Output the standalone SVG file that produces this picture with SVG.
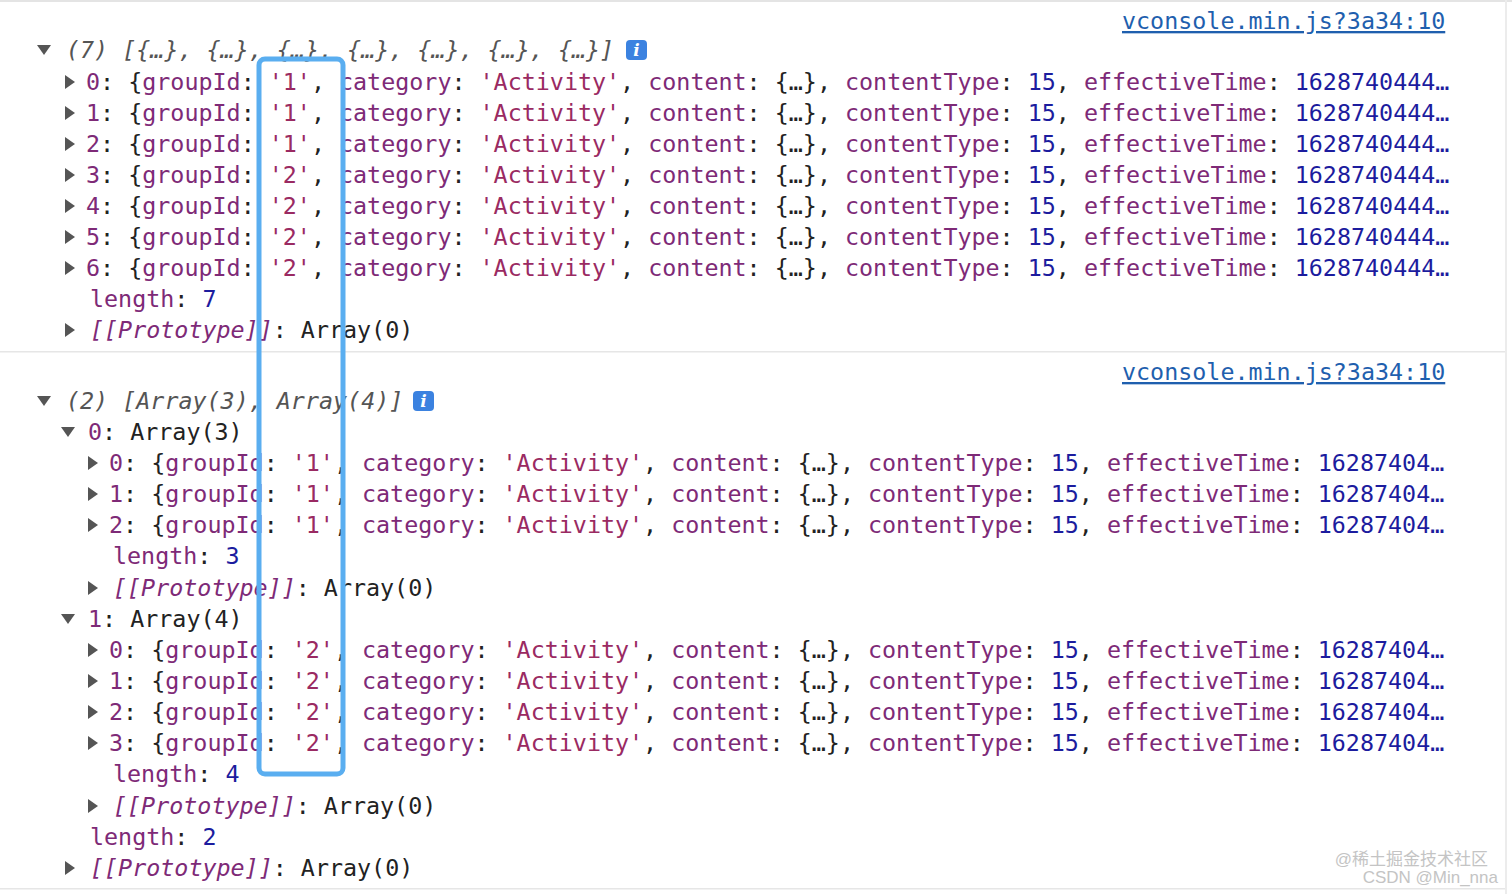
<svg xmlns="http://www.w3.org/2000/svg" width="1512" height="894" viewBox="0 0 1512 894" xml:space="preserve">
<style>
text{font-family:"DejaVu Sans Mono","Liberation Mono",monospace;font-size:23.35px;fill:#222}
.k{fill:#7e2a77}.s{fill:#9a2a62}.n{fill:#1c1c9e}.h{fill:#555;font-style:italic}
.p{fill:#7e2a77;font-style:italic}.l{fill:#1f5fae;text-decoration:underline}
.w{font-family:"Liberation Sans","Noto Sans CJK SC",sans-serif;font-size:17px;fill:#c4c4c4}
</style>
<defs>
<path id="tr" d="M0,-7 L10,0 L0,7Z" fill="#555"/>
<path id="td" d="M-7,-5 L7,-5 L0,5Z" fill="#555"/>
<g id="info"><rect x="0" y="0" width="21" height="20" rx="4" fill="#3b82e0"/><text x="10.5" y="16" text-anchor="middle" style="fill:#fff;font-size:17px;font-weight:bold;font-family:'DejaVu Serif',serif;font-style:italic">i</text></g>
</defs>
<rect width="1512" height="894" fill="#fff"/>
<rect x="0" y="0" width="1512" height="2" fill="#e4e4e4"/>
<rect x="1505" y="0" width="2" height="894" fill="#ececec"/>
<rect x="0" y="351" width="1505" height="1.5" fill="#e6e6e6"/>
<rect x="0" y="888" width="1505" height="1.5" fill="#e6e6e6"/>

<g id="log1">
<text x="1122" y="29" class="l">vconsole.min.js?3a34:10</text>
<use href="#td" x="44" y="50"/>
<text x="66" y="58" class="h">(7) [{…}, {…}, {…}, {…}, {…}, {…}, {…}]</text>
<use href="#info" x="626" y="40"/>
<use href="#tr" x="65" y="82"/><text x="86" y="90"><tspan class="k">0</tspan>: {<tspan class="k">groupId</tspan>: <tspan class="s">'1'</tspan>, <tspan class="k">category</tspan>: <tspan class="s">'Activity'</tspan>, <tspan class="k">content</tspan>: {…}, <tspan class="k">contentType</tspan>: <tspan class="n">15</tspan>, <tspan class="k">effectiveTime</tspan>: <tspan class="n">1628740444…</tspan></text>
<use href="#tr" x="65" y="113"/><text x="86" y="121"><tspan class="k">1</tspan>: {<tspan class="k">groupId</tspan>: <tspan class="s">'1'</tspan>, <tspan class="k">category</tspan>: <tspan class="s">'Activity'</tspan>, <tspan class="k">content</tspan>: {…}, <tspan class="k">contentType</tspan>: <tspan class="n">15</tspan>, <tspan class="k">effectiveTime</tspan>: <tspan class="n">1628740444…</tspan></text>
<use href="#tr" x="65" y="144"/><text x="86" y="152"><tspan class="k">2</tspan>: {<tspan class="k">groupId</tspan>: <tspan class="s">'1'</tspan>, <tspan class="k">category</tspan>: <tspan class="s">'Activity'</tspan>, <tspan class="k">content</tspan>: {…}, <tspan class="k">contentType</tspan>: <tspan class="n">15</tspan>, <tspan class="k">effectiveTime</tspan>: <tspan class="n">1628740444…</tspan></text>
<use href="#tr" x="65" y="175"/><text x="86" y="183"><tspan class="k">3</tspan>: {<tspan class="k">groupId</tspan>: <tspan class="s">'2'</tspan>, <tspan class="k">category</tspan>: <tspan class="s">'Activity'</tspan>, <tspan class="k">content</tspan>: {…}, <tspan class="k">contentType</tspan>: <tspan class="n">15</tspan>, <tspan class="k">effectiveTime</tspan>: <tspan class="n">1628740444…</tspan></text>
<use href="#tr" x="65" y="206"/><text x="86" y="214"><tspan class="k">4</tspan>: {<tspan class="k">groupId</tspan>: <tspan class="s">'2'</tspan>, <tspan class="k">category</tspan>: <tspan class="s">'Activity'</tspan>, <tspan class="k">content</tspan>: {…}, <tspan class="k">contentType</tspan>: <tspan class="n">15</tspan>, <tspan class="k">effectiveTime</tspan>: <tspan class="n">1628740444…</tspan></text>
<use href="#tr" x="65" y="237"/><text x="86" y="245"><tspan class="k">5</tspan>: {<tspan class="k">groupId</tspan>: <tspan class="s">'2'</tspan>, <tspan class="k">category</tspan>: <tspan class="s">'Activity'</tspan>, <tspan class="k">content</tspan>: {…}, <tspan class="k">contentType</tspan>: <tspan class="n">15</tspan>, <tspan class="k">effectiveTime</tspan>: <tspan class="n">1628740444…</tspan></text>
<use href="#tr" x="65" y="268"/><text x="86" y="276"><tspan class="k">6</tspan>: {<tspan class="k">groupId</tspan>: <tspan class="s">'2'</tspan>, <tspan class="k">category</tspan>: <tspan class="s">'Activity'</tspan>, <tspan class="k">content</tspan>: {…}, <tspan class="k">contentType</tspan>: <tspan class="n">15</tspan>, <tspan class="k">effectiveTime</tspan>: <tspan class="n">1628740444…</tspan></text>
<text x="90" y="307"><tspan class="k">length</tspan>: <tspan class="n">7</tspan></text>
<use href="#tr" x="65" y="330"/><text x="90" y="338"><tspan class="p">[[Prototype]]</tspan>: Array(0)</text>
</g>

<g id="log2">
<text x="1122" y="380" class="l">vconsole.min.js?3a34:10</text>
<use href="#td" x="44" y="401"/>
<text x="66" y="409" class="h">(2) [Array(3), Array(4)]</text>
<use href="#info" x="413" y="391"/>
<use href="#td" x="68" y="432"/><text x="88" y="440"><tspan class="k">0</tspan>: Array(3)</text>
<use href="#tr" x="88" y="463"/><text x="109" y="471"><tspan class="k">0</tspan>: {<tspan class="k">groupId</tspan>: <tspan class="s">'1'</tspan>, <tspan class="k">category</tspan>: <tspan class="s">'Activity'</tspan>, <tspan class="k">content</tspan>: {…}, <tspan class="k">contentType</tspan>: <tspan class="n">15</tspan>, <tspan class="k">effectiveTime</tspan>: <tspan class="n">16287404…</tspan></text>
<use href="#tr" x="88" y="494"/><text x="109" y="502"><tspan class="k">1</tspan>: {<tspan class="k">groupId</tspan>: <tspan class="s">'1'</tspan>, <tspan class="k">category</tspan>: <tspan class="s">'Activity'</tspan>, <tspan class="k">content</tspan>: {…}, <tspan class="k">contentType</tspan>: <tspan class="n">15</tspan>, <tspan class="k">effectiveTime</tspan>: <tspan class="n">16287404…</tspan></text>
<use href="#tr" x="88" y="525"/><text x="109" y="533"><tspan class="k">2</tspan>: {<tspan class="k">groupId</tspan>: <tspan class="s">'1'</tspan>, <tspan class="k">category</tspan>: <tspan class="s">'Activity'</tspan>, <tspan class="k">content</tspan>: {…}, <tspan class="k">contentType</tspan>: <tspan class="n">15</tspan>, <tspan class="k">effectiveTime</tspan>: <tspan class="n">16287404…</tspan></text>
<text x="113" y="564"><tspan class="k">length</tspan>: <tspan class="n">3</tspan></text>
<use href="#tr" x="88" y="588"/><text x="113" y="596"><tspan class="p">[[Prototype]]</tspan>: Array(0)</text>
<use href="#td" x="68" y="619"/><text x="88" y="627"><tspan class="k">1</tspan>: Array(4)</text>
<use href="#tr" x="88" y="650"/><text x="109" y="658"><tspan class="k">0</tspan>: {<tspan class="k">groupId</tspan>: <tspan class="s">'2'</tspan>, <tspan class="k">category</tspan>: <tspan class="s">'Activity'</tspan>, <tspan class="k">content</tspan>: {…}, <tspan class="k">contentType</tspan>: <tspan class="n">15</tspan>, <tspan class="k">effectiveTime</tspan>: <tspan class="n">16287404…</tspan></text>
<use href="#tr" x="88" y="681"/><text x="109" y="689"><tspan class="k">1</tspan>: {<tspan class="k">groupId</tspan>: <tspan class="s">'2'</tspan>, <tspan class="k">category</tspan>: <tspan class="s">'Activity'</tspan>, <tspan class="k">content</tspan>: {…}, <tspan class="k">contentType</tspan>: <tspan class="n">15</tspan>, <tspan class="k">effectiveTime</tspan>: <tspan class="n">16287404…</tspan></text>
<use href="#tr" x="88" y="712"/><text x="109" y="720"><tspan class="k">2</tspan>: {<tspan class="k">groupId</tspan>: <tspan class="s">'2'</tspan>, <tspan class="k">category</tspan>: <tspan class="s">'Activity'</tspan>, <tspan class="k">content</tspan>: {…}, <tspan class="k">contentType</tspan>: <tspan class="n">15</tspan>, <tspan class="k">effectiveTime</tspan>: <tspan class="n">16287404…</tspan></text>
<use href="#tr" x="88" y="743"/><text x="109" y="751"><tspan class="k">3</tspan>: {<tspan class="k">groupId</tspan>: <tspan class="s">'2'</tspan>, <tspan class="k">category</tspan>: <tspan class="s">'Activity'</tspan>, <tspan class="k">content</tspan>: {…}, <tspan class="k">contentType</tspan>: <tspan class="n">15</tspan>, <tspan class="k">effectiveTime</tspan>: <tspan class="n">16287404…</tspan></text>
<text x="113" y="782"><tspan class="k">length</tspan>: <tspan class="n">4</tspan></text>
<use href="#tr" x="88" y="806"/><text x="113" y="814"><tspan class="p">[[Prototype]]</tspan>: Array(0)</text>
<text x="90" y="845"><tspan class="k">length</tspan>: <tspan class="n">2</tspan></text>
<use href="#tr" x="65" y="868"/><text x="90" y="876"><tspan class="p">[[Prototype]]</tspan>: Array(0)</text>
</g>

<g id="highlight">
<rect x="259" y="59" width="84" height="715" rx="6" fill="none" stroke="#5aaef0" stroke-width="5"/>
</g>

<text x="1488" y="865" text-anchor="end" class="w">@稀土掘金技术社区</text>
<text x="1498" y="883" text-anchor="end" class="w">CSDN @Min_nna</text>
</svg>
